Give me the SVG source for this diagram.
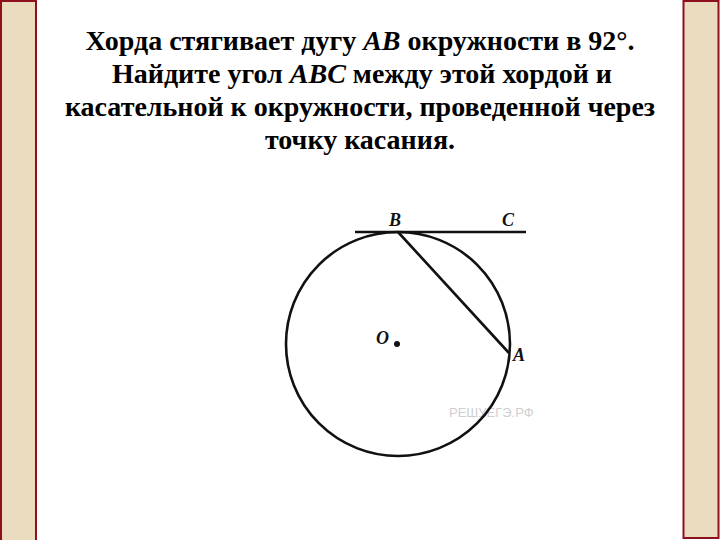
<svg xmlns="http://www.w3.org/2000/svg" width="720" height="540" viewBox="0 0 720 540">
<style>
.panel{fill:#ecdcbf;stroke:#8e0f1e;stroke-width:2}
.title{font-family:"Liberation Serif","Times New Roman",serif;font-weight:bold;font-size:28px;fill:#000;text-anchor:middle}
.it{font-style:italic}
.lbl{font-family:"Liberation Serif","Times New Roman",serif;font-weight:bold;font-style:italic;font-size:18px;fill:#111}
.geo{fill:none;stroke:#111;stroke-width:2.6}
.wm{font-family:"Liberation Sans",Arial,sans-serif;font-size:13px;fill:#cfcfcf}
</style>
<rect width="720" height="540" fill="#ffffff"/>
<rect class="panel" x="1" y="1" width="35" height="541"/>
<rect class="panel" x="683.5" y="1" width="35" height="537"/>
<text class="title" x="360" y="50">Хорда стягивает дугу <tspan class="it">AB</tspan> окружности в 92°.</text>
<text class="title" x="362" y="83">Найдите угол <tspan class="it">ABC</tspan> между этой хордой и</text>
<text class="title" x="360" y="116">касательной к окружности, проведенной через</text>
<text class="title" x="360" y="149">точку касания.</text>
<text class="wm" x="449" y="417">РЕШУЕГЭ.РФ</text>
<g id="circle">
<circle class="geo" cx="398" cy="344" r="112"/>
<circle cx="397" cy="344" r="3" fill="#111"/>
</g>
<g id="connectors">
<line class="geo" x1="355" y1="232" x2="526" y2="232"/>
<line class="geo" x1="398" y1="232" x2="509" y2="353"/>
</g>
<g id="labels">
<text class="lbl" x="389" y="226">B</text>
<text class="lbl" x="502" y="226">C</text>
<text class="lbl" x="376" y="344">O</text>
<text class="lbl" x="513" y="361">A</text>
</g>
</svg>
